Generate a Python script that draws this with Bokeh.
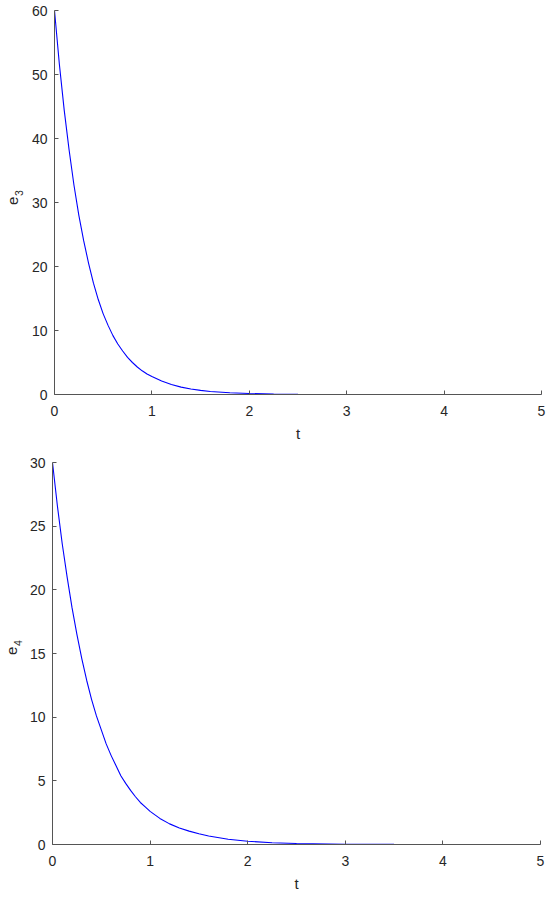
import math
from bokeh.plotting import figure
from bokeh.layouts import column, row
from bokeh.models import Range1d, FixedTicker
from bokeh.core.properties import value
from bokeh.embed import file_html
from bokeh.resources import INLINE

# Data
t_vals = [0, 0.05, 0.1, 0.15, 0.2, 0.25, 0.3, 0.35, 0.4, 0.45, 0.5, 0.55, 0.6, 0.65,
          0.7, 0.75, 0.8, 0.85, 0.9, 0.95, 1.0, 1.1, 1.2, 1.3, 1.4, 1.5, 1.6, 1.8,
          2.0, 2.25, 2.5, 3.0, 3.5, 4.0, 5.0]
e3_vals = [60, 51.6, 44.4, 38.2, 32.7, 28.0, 24.0, 20.5, 17.4, 14.8, 12.6, 10.8, 9.2, 7.9,
           6.8, 5.8, 5.0, 4.3, 3.7, 3.2, 2.8, 2.1, 1.55, 1.15, 0.85, 0.65, 0.48, 0.27,
           0.15, 0.07, 0.033, 0.007, 0.002, 0.0, 0.0]
e4_vals = [30, 26.6, 23.6, 21.0, 18.6, 16.5, 14.6, 12.9, 11.4, 10.1, 9.0, 7.9, 7.0, 6.2,
           5.4, 4.8, 4.25, 3.75, 3.3, 2.95, 2.6, 2.05, 1.62, 1.3, 1.05, 0.84, 0.67, 0.41,
           0.26, 0.14, 0.08, 0.024, 0.007, 0.002, 0.0]
x_ticks = [0, 1, 2, 3, 4, 5]
y3_ticks = [0, 10, 20, 30, 40, 50, 60]
y4_ticks = [0, 5, 10, 15, 20, 25, 30]
x_label = "t"
y3_label = ("e", "3")
y4_label = ("e", "4")

FONT = "Liberation Sans"
TXT = "#262626"
AX = "#555555"
LW = 24          # width of the strip holding the y label
W = 546 - LW


def label_strip(height, parts, e_pos, s_pos):
    s = figure(width=LW, height=height, output_backend="svg", toolbar_location=None,
               x_range=Range1d(0, LW), y_range=Range1d(0, height),
               min_border=0, min_border_left=0, min_border_right=0,
               min_border_top=0, min_border_bottom=0)
    s.axis.visible = False
    s.grid.visible = False
    s.outline_line_color = None
    s.background_fill_color = "white"
    s.border_fill_color = "white"
    s.text(x=[e_pos[0]], y=[height - e_pos[1]], text=[parts[0]], angle=math.pi / 2,
           text_font=value(FONT), text_font_size="15px", text_color=TXT,
           text_align="center", text_baseline="alphabetic")
    s.text(x=[s_pos[0]], y=[height - s_pos[1]], text=[parts[1]], angle=math.pi / 2,
           text_font=value(FONT), text_font_size="10.5px", text_color=TXT,
           text_align="center", text_baseline="alphabetic")
    return s


def make_fig(y, ymax, yticks, height, mb_top, mb_bottom, mb_left, mb_right):
    p = figure(width=W, height=height, output_backend="svg", toolbar_location=None,
               x_range=Range1d(0, 5), y_range=Range1d(0, ymax),
               min_border_top=mb_top, min_border_bottom=mb_bottom,
               min_border_left=mb_left, min_border_right=mb_right)
    p.line(t_vals, y, line_color="#0000ff", line_width=1.1)
    p.outline_line_color = None
    p.xgrid.visible = False
    p.ygrid.visible = False
    p.background_fill_color = "white"
    p.border_fill_color = "white"
    p.xaxis.ticker = FixedTicker(ticks=x_ticks)
    p.yaxis.ticker = FixedTicker(ticks=yticks)
    p.xaxis.axis_label = x_label
    for ax in (p.xaxis, p.yaxis):
        ax.axis_line_color = AX
        ax.axis_line_width = 1
        ax.major_tick_line_color = AX
        ax.major_tick_in = 4
        ax.major_tick_out = 0
        ax.minor_tick_line_color = None
        ax.major_label_text_font = FONT
        ax.major_label_text_font_size = "14px"
        ax.major_label_text_color = TXT
        ax.axis_label_text_font = FONT
        ax.axis_label_text_font_size = "15px"
        ax.axis_label_text_font_style = "normal"
        ax.axis_label_text_color = TXT
    p.xaxis.major_label_standoff = 11
    p.xaxis.axis_label_standoff = 6
    p.yaxis.major_label_standoff = 7
    return p


H1, H2 = 450, 444
s1 = label_strip(H1, y3_label, (12, 223), (18, 214))
p1 = make_fig(e3_vals, 60, y3_ticks, H1, 10, 56, 54 - LW, 5)
s2 = label_strip(H2, y4_label, (11, 219), (17.5, 210))
p2 = make_fig(e4_vals, 30, y4_ticks, H2, 12, 46, 52 - LW, 6)

layout = column(row(s1, p1, spacing=0), row(s2, p2, spacing=0), spacing=0)
open("out.html", "w").write(file_html(layout, INLINE))
